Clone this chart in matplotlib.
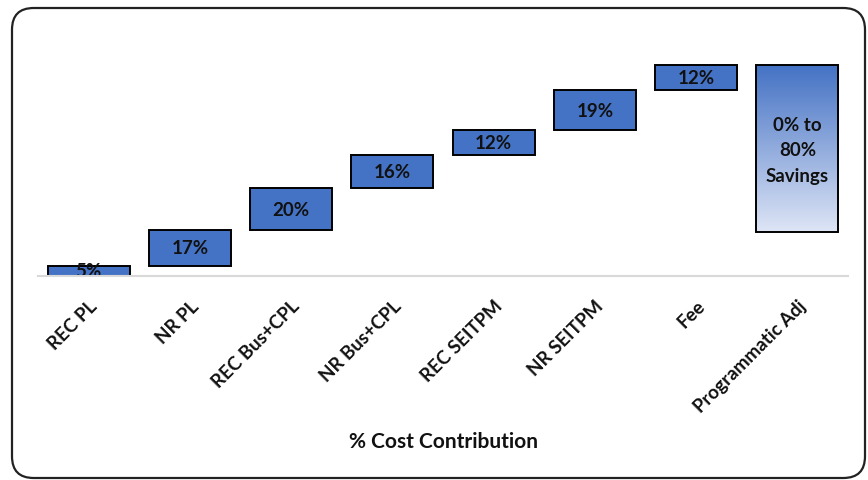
import numpy as np
import matplotlib
matplotlib.use("Agg")
import matplotlib.pyplot as plt
from matplotlib.patches import Rectangle, FancyBboxPatch

plt.rcParams['font.family'] = ['Lato', 'DejaVu Sans']

# Waterfall data: each cost element's contribution (%)
categories = ["REC PL", "NR PL", "REC Bus+CPL", "NR Bus+CPL",
              "REC SEITPM", "NR SEITPM", "Fee", "Programmatic Adj"]
contributions = [5, 17, 20, 16, 12, 19, 12]
savings_span = 80
savings_label = "0% to\n80%\nSavings"
value_labels = ["5%", "17%", "20%", "16%", "12%", "19%", "12%"]

BAR_BLUE = "#4472C4"

fig = plt.figure(figsize=(8.68, 4.81), dpi=100)
ax = fig.add_axes([38 / 868, 1 - 277 / 481, 810 / 868, 247 / 481])

tops = np.cumsum(contributions)
bottoms = tops - np.array(contributions)
x = np.arange(len(contributions))
width = 0.81

ax.bar(x, contributions, bottom=bottoms, width=width, color=BAR_BLUE,
       edgecolor="black", linewidth=1.4, zorder=2)
for xi, b, v, lab in zip(x, bottoms, contributions, value_labels):
    ax.text(xi, b + v / 2, lab, ha="center", va="center", fontsize=13.5,
            fontweight="bold", color="#111111", clip_on=True, zorder=3)

# Final gradient bar for the programmatic adjustment
total = tops[-1]
adj_x = len(contributions)
adj_bottom = total - savings_span
grad = np.linspace(0, 1, 256).reshape(-1, 1)
top_rgb = np.array([68, 114, 196]) / 255
bot_rgb = np.array([222, 229, 246]) / 255
img = top_rgb[None, None, :] * (1 - grad[:, :, None]) + bot_rgb[None, None, :] * grad[:, :, None]
ax.imshow(img, extent=[adj_x - width / 2, adj_x + width / 2, adj_bottom, total],
          aspect="auto", origin="upper", zorder=2, interpolation="bilinear")
ax.add_patch(Rectangle((adj_x - width / 2, adj_bottom), width, savings_span,
                       facecolor="none", edgecolor="black", linewidth=1.4, zorder=3))
ax.text(adj_x, adj_bottom + savings_span / 2 - 0.5, savings_label, ha="center",
        va="center", fontsize=13.5, fontweight="bold", color="#111111",
        linespacing=1.6, zorder=4)

ax.set_xlim(-0.5, len(categories) - 0.5)
ax.set_ylim(0, 118.5)
ax.set_xticks(np.arange(len(categories)))
ax.set_xticklabels(categories, rotation=45, ha="right", rotation_mode="anchor",
                   fontsize=13.5, fontweight="bold", color="#111111")
ax.tick_params(axis="x", length=0, pad=15)
ax.set_yticks([])
for s in ("top", "right", "left"):
    ax.spines[s].set_visible(False)
ax.spines["bottom"].set_color("#d9d9d9")
ax.spines["bottom"].set_linewidth(1.5)
ax.spines["bottom"].set_zorder(4)

fig.text(443 / 868, 1 - 442 / 481, "% Cost Contribution", ha="center",
         va="center", fontsize=15, fontweight="bold", color="#111111")

# Rounded frame around the chart
frame = FancyBboxPatch((12 / 868, 2 / 481), 853 / 868, 470 / 481,
                       boxstyle="round,pad=0,rounding_size=0.025",
                       transform=fig.transFigure, facecolor="none",
                       edgecolor="#222222", linewidth=1.6,
                       mutation_aspect=868 / 481)
fig.patches.append(frame)

fig.savefig("out.png", dpi=100)
